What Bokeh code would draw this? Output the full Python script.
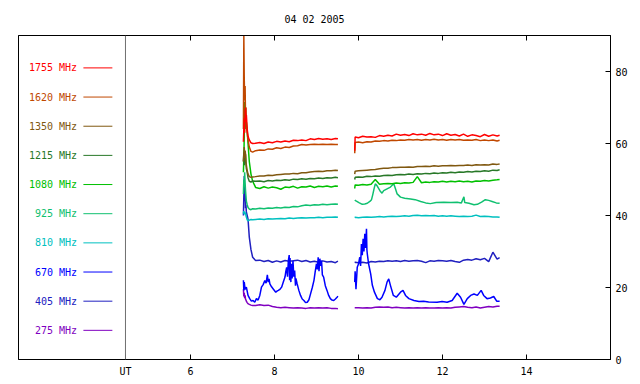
import numpy as np
from bokeh.plotting import figure
from bokeh.models import ColumnDataSource, LinearAxis, FixedTicker, Span, Range1d
from bokeh.core.properties import value
from bokeh.embed import file_html
from bokeh.resources import INLINE

TITLE = "04 02 2005"
FREQS = ["1755 MHz", "1620 MHz", "1350 MHz", "1215 MHz", "1080 MHz",
         "925 MHz", "810 MHz", "670 MHz", "405 MHz", "275 MHz"]
COLORS = ["#ff0000", "#c04800", "#805810", "#287828", "#00c000",
          "#10c070", "#00c0c0", "#0000ff", "#2020c0", "#8000c0"]

X_TICKS = [4.452, 6, 8, 10, 12, 14]
X_TICK_LABELS = ["UT", "6", "8", "10", "12", "14"]
Y_TICKS = [0, 20, 40, 60, 80]

# common time grid (UT hours)
T1 = [7.26, 7.27, 7.28, 7.29, 7.30, 7.31, 7.32, 7.33, 7.35, 7.37, 7.40, 7.44, 7.48,
      7.55, 7.65, 7.75, 7.85, 7.95, 8.05, 8.15, 8.25, 8.35, 8.45, 8.55, 8.65, 8.75,
      8.85, 8.95, 9.05, 9.15, 9.25, 9.35, 9.45, 9.51]
T2 = [9.91, 9.92, 10.0, 10.1, 10.2, 10.3, 10.4, 10.5, 10.6, 10.7, 10.8, 10.9, 11.0,
      11.1, 11.2, 11.3, 11.4, 11.5, 11.6, 11.7, 11.8, 11.9, 12.0, 12.1, 12.2, 12.3,
      12.4, 12.5, 12.6, 12.7, 12.8, 12.9, 13.0, 13.1, 13.2, 13.3, 13.36]

F1755_A = [60.5, 64, 67, 63, 69, 70, 66, 68, 64, 62, 61, 60.2, 60.0, 60.1, 60.3, 60.0, 60.4,
           60.2, 60.6, 60.4, 60.7, 60.5, 60.9, 60.8, 61.0, 60.8, 61.3, 61.1, 61.4, 61.2,
           61.3, 61.1, 61.4, 61.3]
F1755_B = [58.0, 61.8, 61.6, 62.0, 61.8, 61.9, 61.7, 62.2, 62.0, 62.3, 62.1, 62.6, 62.3,
           62.5, 62.2, 62.7, 62.4, 62.6, 62.3, 62.8, 62.4, 62.6, 62.2, 62.7, 62.3, 62.5,
           62.1, 62.6, 62.0, 62.4, 62.2, 61.9, 62.5, 62.0, 62.4, 62.1, 62.3]

F1620_A = [64, 90, 78, 72, 76, 68, 70, 65, 63, 61, 59, 57.8, 57.6, 58.0, 58.2, 58.1, 58.5,
           58.4, 58.8, 58.6, 59.0, 58.9, 59.3, 59.4, 59.7, 59.6, 59.7, 59.8, 59.7, 59.8,
           59.7, 59.8, 59.7, 59.7]
F1620_B = [57.3, 60.3, 60.4, 60.2, 60.5, 60.4, 60.7, 60.6, 60.8, 60.7, 60.9, 60.8, 61.0,
           60.9, 61.1, 61.0, 61.1, 60.9, 61.1, 61.0, 61.2, 61.0, 61.1, 60.9, 61.1, 61.0,
           61.1, 60.9, 61.0, 60.9, 61.1, 60.8, 61.0, 60.8, 61.0, 60.7, 60.9]

F1350_A = [55, 57, 59, 56, 58, 57, 55, 54, 52.5, 51.5, 50.8, 50.6, 50.7, 50.8, 51.0, 51.0,
           51.2, 51.1, 51.3, 51.4, 51.5, 51.5, 51.7, 51.6, 51.9, 51.9, 52.1, 52.2, 52.3,
           52.2, 52.4, 52.4, 52.6, 52.5]
F1350_B = [51.5, 52.3, 52.4, 52.5, 52.6, 52.7, 52.8, 53.0, 53.1, 53.1, 53.3, 53.3, 53.4,
           53.4, 53.5, 53.4, 53.6, 53.6, 53.7, 53.6, 53.8, 53.7, 53.8, 53.8, 53.9, 53.8,
           53.9, 53.9, 54.0, 53.9, 54.1, 54.0, 54.1, 54.0, 54.3, 54.2, 54.3]

F1215_A = [55, 57.5, 54, 56.5, 55, 57, 54.5, 53, 52, 50.5, 49.5, 49.3, 49.6, 49.5, 49.6,
           49.4, 49.7, 49.6, 49.8, 49.7, 49.9, 49.8, 50.1, 50.0, 50.2, 50.1, 50.3, 50.2,
           50.4, 50.3, 50.5, 50.4, 50.6, 50.5]
F1215_B = [50.0, 50.6, 50.7, 50.6, 50.9, 50.8, 51.0, 50.9, 51.1, 51.2, 51.1, 51.3, 51.4,
           51.3, 51.5, 51.4, 51.6, 51.5, 51.7, 51.6, 51.8, 51.7, 51.9, 51.8, 52.0, 51.9,
           52.1, 52.0, 52.2, 52.1, 52.3, 52.2, 52.4, 52.3, 52.6, 52.5, 52.7]

F1080_A = [52, 56, 62, 71.5, 66, 70, 64, 66, 63.5, 60, 55, 51.5, 49.5, 47.8, 47.5, 48.0,
           47.6, 47.9, 47.7, 47.3, 47.9, 47.8, 48.1, 47.6, 48.0, 47.9, 48.2, 47.8, 48.1,
           48.0, 48.2, 47.9, 48.2, 48.1]
F1080_B = [47.5, 48.5, 48.4, 48.6, 48.5, 48.7, 50.0, 48.7, 48.8, 48.9, 48.8, 49.0, 48.9,
           49.1, 49.0, 49.2, 50.8, 49.1, 49.3, 49.2, 49.4, 49.3, 49.5, 49.3, 49.5, 49.4,
           49.6, 49.4, 49.5, 49.3, 49.6, 49.5, 49.7, 49.6, 49.8, 49.9, 50.0]

F925_A = [46, 50, 48, 52, 49, 47, 45.5, 44, 43, 42.2, 41.8, 41.6, 41.9, 41.8, 42.0, 41.9,
          42.1, 42.0, 42.2, 42.1, 42.3, 42.2, 42.5, 42.4, 42.7, 42.9, 42.8, 43.0, 42.9,
          43.1, 43.0, 43.1, 43.2, 43.1]
T925_B = [9.91, 9.95, 10.01, 10.09, 10.15, 10.21, 10.27, 10.31, 10.34, 10.37, 10.40, 10.44,
          10.51, 10.56, 10.60, 10.68, 10.76, 10.84, 10.88, 10.92, 11.0, 11.1, 11.24, 11.35,
          11.48, 11.6, 11.71, 11.85, 12.03, 12.2, 12.35, 12.45, 12.51, 12.53, 12.63, 12.75,
          12.83, 12.93, 13.02, 13.1, 13.18, 13.28, 13.36]
F925_B = [44.3, 44.0, 43.6, 43.1, 43.2, 43.4, 43.9, 44.4, 45.8, 47.4, 48.8, 48.3, 46.9,
          46.2, 46.9, 47.4, 47.9, 48.8, 47.4, 46.0, 45.1, 44.8, 44.6, 44.4, 43.9, 43.5,
          43.3, 43.6, 43.7, 43.6, 43.7, 43.5, 45.2, 43.6, 43.4, 43.0, 43.1, 43.7, 44.4,
          44.2, 43.9, 43.5, 43.4]

F810_A = [40.5, 41.2, 40.3, 41.0, 40.4, 40.8, 40.0, 39.6, 38.8, 38.5, 38.7, 38.9, 38.8,
          38.9, 39.0, 38.9, 39.1, 39.0, 39.1, 39.2, 39.1, 39.3, 39.2, 39.3, 39.4, 39.3,
          39.4, 39.4, 39.5, 39.4, 39.5, 39.5, 39.6, 39.5]
F810_B = [39.4, 39.5, 39.4, 39.5, 39.6, 39.5, 39.6, 39.7, 39.6, 39.7, 39.8, 39.7, 39.8,
          39.9, 39.8, 40.0, 40.1, 39.9, 40.0, 39.9, 40.0, 39.8, 39.9, 39.8, 39.9, 39.8,
          39.7, 39.8, 39.7, 39.8, 40.1, 39.7, 39.8, 39.7, 39.6, 39.6, 39.5]

T670_A = [7.26, 7.27, 7.28, 7.30, 7.33, 7.37, 7.41, 7.45, 7.49, 7.53,
          7.57, 7.61, 7.65, 7.69, 7.73, 7.77, 7.80, 7.83, 7.85, 7.87,
          7.89, 7.93, 7.97, 8.03, 8.06, 8.09, 8.13, 8.17, 8.21, 8.25,
          8.27, 8.29, 8.31, 8.33, 8.35, 8.36, 8.37, 8.39, 8.40, 8.42,
          8.44, 8.46, 8.48, 8.50, 8.51, 8.54, 8.58, 8.62, 8.66, 8.70,
          8.74, 8.78, 8.82, 8.86, 8.90, 8.94, 8.97, 9.00, 9.02, 9.04,
          9.06, 9.08, 9.10, 9.12, 9.14, 9.17, 9.21, 9.25, 9.29, 9.33,
          9.37, 9.41, 9.45, 9.49, 9.51]
F670_A = [22.0, 19.2, 21.5, 19.5, 20.1, 17.8, 16.9, 16.2, 16.4, 15.9,
          16.9, 16.5, 17.8, 20.1, 20.8, 21.9, 21.2, 23.5, 21.5, 22.4,
          21.0, 20.2, 19.6, 18.7, 19.0, 19.2, 19.5, 20.1, 21.5, 22.9,
          24.5, 25.6, 23.0, 27.5, 29.0, 22.0, 28.2, 21.5, 26.6, 22.5,
          27.5, 23.0, 24.7, 20.5, 22.5, 21.0, 19.2, 17.8, 16.8, 16.4,
          15.8, 15.9, 16.6, 18.3, 20.0, 22.0, 24.5, 26.6, 25.0, 28.4,
          24.5, 28.0, 26.0, 27.5, 23.5, 22.9, 20.5, 19.2, 17.8, 16.9,
          16.5, 16.4, 16.8, 17.3, 17.6]
T670_B = [9.91, 9.92, 9.94, 9.97, 10.00, 10.03, 10.05, 10.07, 10.09, 10.11,
          10.13, 10.15, 10.17, 10.19, 10.20, 10.21, 10.24, 10.29, 10.33, 10.38,
          10.45, 10.51, 10.56, 10.63, 10.68, 10.72, 10.76, 10.83, 10.90, 10.95,
          11.0, 11.06, 11.12, 11.20, 11.32, 11.44, 11.55, 11.67, 11.87, 11.99,
          12.11, 12.23, 12.35, 12.43, 12.51, 12.59, 12.67, 12.75, 12.83, 12.92,
          12.98, 13.06, 13.14, 13.22, 13.29, 13.36]
F670_B = [21.5, 24.5, 19.5, 25.6, 26.5, 28.4, 26.0, 32.1, 29.0, 33.5,
          30.0, 34.9, 31.0, 36.3, 30.5, 29.3, 26.6, 23.8, 20.6, 18.7,
          16.9, 16.6, 17.3, 19.2, 21.5, 22.4, 20.6, 17.8, 17.3, 18.0,
          18.7, 19.2, 17.8, 16.9, 16.4, 16.1, 16.2, 16.0, 15.9, 16.1,
          15.9, 16.4, 18.4, 17.3, 15.3, 16.9, 17.8, 18.2, 17.8, 19.2,
          17.8, 16.9, 17.1, 17.5, 16.2, 16.2]

F405_A = [40, 45.5, 51, 44, 47, 42, 43, 41, 40, 39, 34, 30.5, 28.4, 27.5, 27.6, 27.2, 27.5,
          27.0, 27.4, 27.1, 27.5, 27.3, 27.4, 27.6, 27.2, 27.5, 27.1, 27.3, 27.0, 27.4,
          27.1, 27.2, 26.9, 27.3]
F405_B = [26.9, 27.0, 26.9, 27.0, 26.8, 27.2, 27.1, 27.3, 27.2, 27.4, 27.3, 27.4, 27.2,
          27.5, 27.3, 27.4, 27.5, 27.3, 26.9, 27.4, 27.3, 27.5, 27.4, 27.3, 27.5, 27.2,
          27.0, 27.6, 27.8, 27.6, 28.0, 27.7, 28.1, 27.2, 29.8, 27.9, 28.3]

F275_A = [19.5, 17.5, 18.5, 17.0, 17.8, 16.8, 16.5, 16.2, 15.8, 15.5, 15.3, 15.1, 15.0,
          15.0, 15.2, 15.0, 15.1, 14.7, 14.5, 14.4, 14.5, 14.4, 14.3, 14.4, 14.3, 14.2,
          14.4, 14.3, 14.4, 14.3, 14.4, 14.2, 14.2, 14.1]
F275_B = [14.4, 14.4, 14.4, 14.3, 14.4, 14.3, 14.5, 14.6, 14.5, 14.6, 14.4, 14.5, 14.4,
          14.3, 14.4, 14.3, 14.4, 14.3, 14.4, 14.3, 14.3, 14.4, 14.3, 14.4, 14.3, 14.5,
          14.6, 14.7, 14.5, 14.4, 14.6, 14.3, 14.5, 14.7, 14.6, 14.8, 14.8]

SERIES = [
    (T1, F1755_A, T2, F1755_B),
    (T1, F1620_A, T2, F1620_B),
    (T1, F1350_A, T2, F1350_B),
    (T1, F1215_A, T2, F1215_B),
    (T1, F1080_A, T2, F1080_B),
    (T1, F925_A, T925_B, F925_B),
    (T1, F810_A, T2, F810_B),
    (T670_A, F670_A, T670_B, F670_B),
    (T1, F405_A, T2, F405_B),
    (T1, F275_A, T2, F275_B),
]

FONT = "DejaVu Sans Mono"
FS = "10px"
X_START, X_END = 1.905, 16.0
Y_START, Y_END = 0, 90
UT_POS = X_TICKS[0]

p = figure(frame_width=592, frame_height=324,
           x_range=Range1d(X_START, X_END), y_range=Range1d(Y_START, Y_END),
           output_backend="svg", toolbar_location=None,
           x_axis_location="below", y_axis_location="right",
           min_border_left=18, min_border_top=35, min_border_right=14,
           min_border_bottom=4)
p.background_fill_color = "white"
p.border_fill_color = "white"
p.outline_line_color = "black"
p.outline_line_width = 1
p.xgrid.visible = False
p.ygrid.visible = False

p.title.text = TITLE
p.title.align = "center"
p.title.vertical_align = "top"
p.title.text_font = FONT
p.title.text_font_size = FS
p.title.text_font_style = "normal"
p.title.text_color = "black"
p.title.standoff = 18

def style_axis(ax):
    ax.axis_line_color = "black"
    ax.major_tick_line_color = "black"
    ax.major_tick_in = 5
    ax.major_tick_out = 0
    ax.minor_tick_line_color = None
    ax.major_label_text_font = FONT
    ax.major_label_text_font_size = FS
    ax.major_label_text_color = "black"

xa = p.xaxis[0]
xa.ticker = FixedTicker(ticks=X_TICKS)
xa.major_label_overrides = {t: s for t, s in zip(X_TICKS, X_TICK_LABELS)}
style_axis(xa)
xa.major_label_standoff = 6

ya = p.yaxis[0]
ya.ticker = FixedTicker(ticks=Y_TICKS)
style_axis(ya)
ya.major_label_standoff = 5

top = LinearAxis(ticker=FixedTicker(ticks=X_TICKS[1:]))
style_axis(top)
top.major_label_overrides = {t: "" for t in X_TICKS[1:]}
top.major_label_standoff = 0
p.add_layout(top, "above")

p.add_layout(Span(location=UT_POS, dimension="height", line_color="#707070",
                  line_width=1, level="overlay"))

# legend panel at left
n = len(FREQS)
leg_y = [Y_END * (0.9 - 0.09 * i) for i in range(n)]
leg_src = ColumnDataSource(dict(y=leg_y, label=FREQS, color=COLORS))
p.text(x=3.30, y="y", text="label", text_color="color", source=leg_src,
       text_align="right", text_baseline="middle",
       text_font=value(FONT), text_font_size=FS)
p.segment(x0=3.45, y0="y", x1=4.14, y1="y", line_color="color", line_width=1,
          source=leg_src)

for (ta, va, tb, vb), col in reversed(list(zip(SERIES, COLORS))):
    gap_t = (ta[-1] + tb[0]) / 2.0
    t = np.array(list(ta) + [gap_t] + list(tb), dtype=float)
    v = np.array(list(va) + [np.nan] + list(vb), dtype=float)
    p.line(t, v, line_color=col, line_width=1.5)

open("out.html", "w").write(file_html(p, INLINE))
